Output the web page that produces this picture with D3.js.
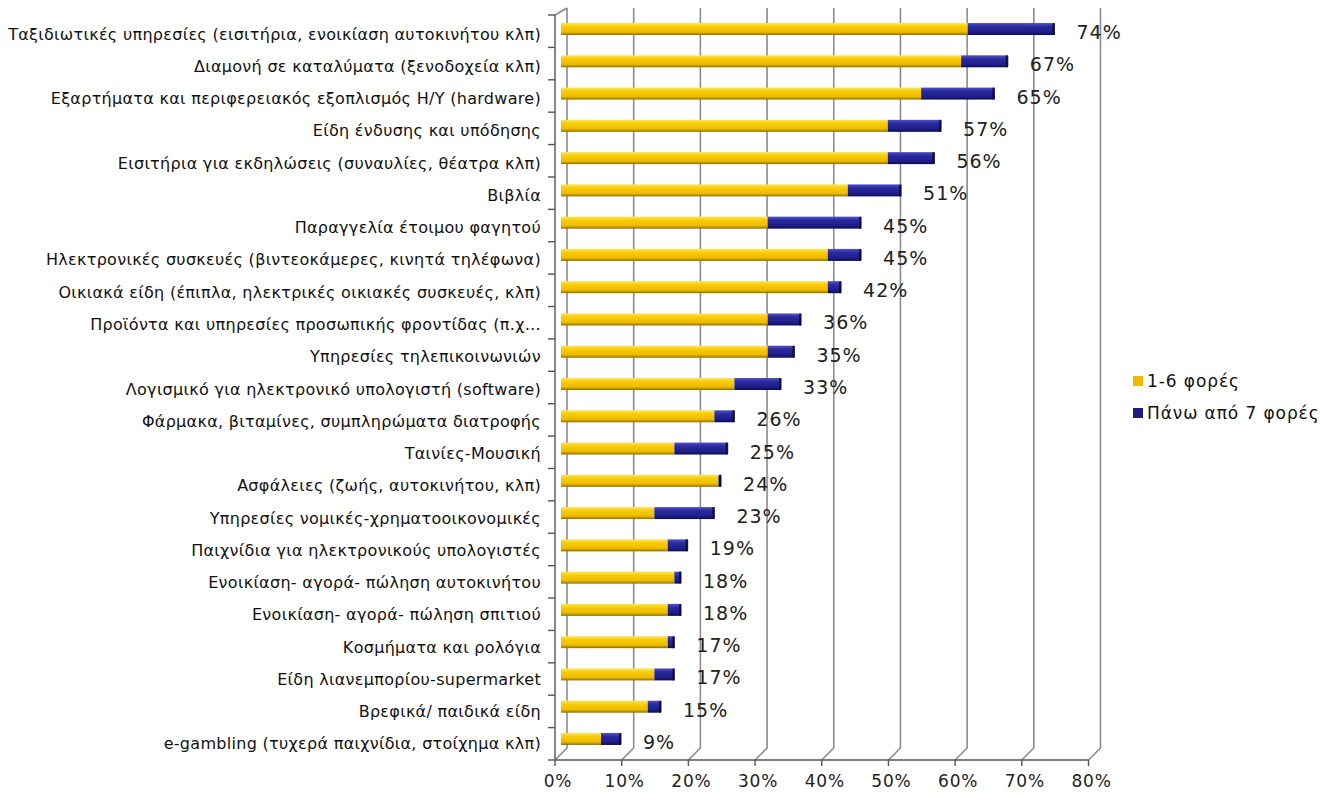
<!DOCTYPE html>
<html>
<head>
<meta charset="utf-8">
<script src="https://cdn.jsdelivr.net/npm/d3@7"></script>
<style>
  html, body { margin: 0; padding: 0; background: #fff; }
  svg { display: block; font-family: "DejaVu Sans", Verdana, sans-serif; }
</style>
</head>
<body>
<svg id="chart" width="1343" height="793"></svg>
<script>
const categories = [
  "Ταξιδιωτικές υπηρεσίες (εισιτήρια, ενοικίαση αυτοκινήτου κλπ)",
  "Διαμονή σε καταλύματα (ξενοδοχεία κλπ)",
  "Εξαρτήματα και περιφερειακός εξοπλισμός Η/Υ (hardware)",
  "Είδη ένδυσης και υπόδησης",
  "Εισιτήρια για εκδηλώσεις (συναυλίες, θέατρα κλπ)",
  "Βιβλία",
  "Παραγγελία έτοιμου φαγητού",
  "Ηλεκτρονικές συσκευές (βιντεοκάμερες, κινητά τηλέφωνα)",
  "Οικιακά είδη (έπιπλα, ηλεκτρικές οικιακές συσκευές, κλπ)",
  "Προϊόντα και υπηρεσίες προσωπικής φροντίδας (π.χ…",
  "Υπηρεσίες τηλεπικοινωνιών",
  "Λογισμικό για ηλεκτρονικό υπολογιστή (software)",
  "Φάρμακα, βιταμίνες, συμπληρώματα διατροφής",
  "Ταινίες-Μουσική",
  "Ασφάλειες (ζωής, αυτοκινήτου, κλπ)",
  "Υπηρεσίες νομικές-χρηματοοικονομικές",
  "Παιχνίδια για ηλεκτρονικούς υπολογιστές",
  "Ενοικίαση- αγορά- πώληση αυτοκινήτου",
  "Ενοικίαση- αγορά- πώληση σπιτιού",
  "Κοσμήματα και ρολόγια",
  "Είδη λιανεμπορίου-supermarket",
  "Βρεφικά/ παιδικά είδη",
  "e-gambling (τυχερά παιχνίδια, στοίχημα κλπ)"
];
const series1to6 = [61, 60, 54, 49, 49, 43, 31, 40, 40, 31, 31, 26, 23, 17, 23.6, 14, 16, 17, 16, 16, 14, 13, 6];
const seriesOver7 = [13, 7, 11, 8, 7, 8, 14, 5, 2, 5, 4, 7, 3, 8, 0.4, 9, 3, 1, 2, 1, 3, 2, 3];
const totalLabels = ["74%", "67%", "65%", "57%", "56%", "51%", "45%", "45%", "42%", "36%", "35%", "33%", "26%", "25%", "24%", "23%", "19%", "18%", "18%", "17%", "17%", "15%", "9%"];
const seriesNames = ["1-6 φορές", "Πάνω από 7 φορές"];
const xTicks = [0, 10, 20, 30, 40, 50, 60, 70, 80];

const svg = d3.select("#chart");
const defs = svg.append("defs");

function grad(id, stops) {
  const g = defs.append("linearGradient").attr("id", id)
    .attr("x1", 0).attr("y1", 0).attr("x2", 0).attr("y2", 1);
  stops.forEach(s => g.append("stop").attr("offset", s[0]).attr("stop-color", s[1]));
}
grad("gy", [[0, "#FFE45A"], [0.3, "#F9CC06"], [0.75, "#EDBB00"], [1, "#8E6E00"]]);
grad("gb", [[0, "#5252C8"], [0.3, "#2A2AA0"], [0.75, "#1E1E88"], [1, "#0C0C50"]]);

const dx = 6;
const xMid = d3.scaleLinear().domain([0, 80]).range([561, 1094.5]);
const xFront = v => xMid(v) - dx;
const xBack = v => xMid(v) + dx;

const yBand = d3.scaleBand().domain(categories).range([12.9, 755.1]);
const yFrontTop = 15, yFrontBottom = 760;
const yBackTop = 8, yBackBottom = 748;
const barH = 12;

const grid = svg.append("g").attr("stroke", "#8c8c8c").attr("fill", "none").attr("stroke-width", 1.6);
xTicks.forEach(t => {
  grid.append("path").attr("d",
    `M${xBack(t)},${yBackTop} L${xBack(t)},${yBackBottom} L${xFront(t)},${yFrontBottom}`);
});
grid.append("path").attr("d", `M${xFront(0)},${yFrontTop} L${xBack(0)},${yBackTop}`);

const axes = svg.append("g").attr("stroke", "#555").attr("fill", "none").attr("stroke-width", 1.4);
axes.append("path").attr("d", `M${xFront(0)},${yFrontTop} L${xFront(0)},${yFrontBottom} L${xFront(80)},${yFrontBottom}`);
const nB = categories.length;
const fStep = (yFrontBottom - yFrontTop) / nB;
d3.range(nB + 1).forEach(i => {
  const y = yFrontTop + i * fStep;
  axes.append("line").attr("x1", xFront(0) - 7).attr("x2", xFront(0)).attr("y1", y).attr("y2", y);
});
xTicks.forEach(t => {
  axes.append("line").attr("x1", xFront(t)).attr("x2", xFront(t)).attr("y1", yFrontBottom).attr("y2", yFrontBottom + 6);
});

svg.append("g").selectAll("text").data(xTicks).join("text")
  .attr("x", d => xFront(d) + 3).attr("y", 787)
  .attr("text-anchor", "middle").attr("font-size", 17).attr("letter-spacing", 0.8).attr("fill", "#222")
  .text(d => d + "%");

svg.append("g").selectAll("text").data(categories).join("text")
  .attr("x", 541).attr("y", d => yBand(d) + yBand.bandwidth() / 2 + 5)
  .attr("text-anchor", "end").attr("dominant-baseline", "central")
  .attr("font-size", 16).attr("letter-spacing", 0.3).attr("fill", "#111")
  .text(d => d);

const rows = categories.map((c, i) => ({ c, a: series1to6[i], b: seriesOver7[i], lab: totalLabels[i] }));
const bars = svg.append("g");
rows.forEach(r => {
  const yc = yBand(r.c) + yBand.bandwidth() / 2;
  bars.append("rect").attr("x", xMid(0)).attr("y", yc - barH / 2)
    .attr("width", xMid(r.a) - xMid(0)).attr("height", barH)
    .attr("fill", "url(#gy)");
  bars.append("rect").attr("x", xMid(r.a)).attr("y", yc - barH / 2)
    .attr("width", xMid(r.a + r.b) - xMid(r.a)).attr("height", barH)
    .attr("fill", "url(#gb)");
  bars.append("rect").attr("x", xMid(r.a + r.b) - 2).attr("y", yc - barH / 2)
    .attr("width", 2.5).attr("height", barH).attr("rx", 1)
    .attr("fill", "#0a0a30").attr("opacity", 0.85);
});

svg.append("g").selectAll("text").data(rows).join("text")
  .attr("x", d => xMid(d.a + d.b) + 22)
  .attr("y", d => yBand(d.c) + yBand.bandwidth() / 2 + 3)
  .attr("dominant-baseline", "central")
  .attr("font-size", 19).attr("fill", "#222").attr("letter-spacing", 1)
  .text(d => d.lab);

const leg = svg.append("g");
const legColors = ["#F5B800", "#1E1E80"];
seriesNames.forEach((n, i) => {
  const y = 381 + i * 32;
  leg.append("rect").attr("x", 1133).attr("y", y - 5).attr("width", 10).attr("height", 10).attr("fill", legColors[i]);
  leg.append("text").attr("x", 1147).attr("y", y).attr("dominant-baseline", "central")
    .attr("font-size", 17).attr("letter-spacing", 0.9).attr("fill", "#111").text(n);
});
</script>
</body>
</html>
